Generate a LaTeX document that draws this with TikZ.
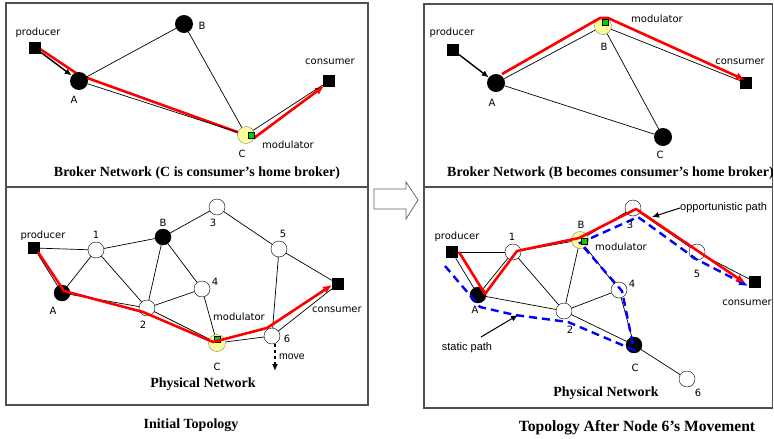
\documentclass[tikz,border=0pt]{standalone}
\usepackage{fontspec}
\setmainfont{Liberation Serif}
\newfontfamily\labelfont{DejaVu Sans}
\newfontfamily\notefont{Liberation Sans}
\usetikzlibrary{arrows.meta,backgrounds}
\definecolor{homeyellow}{RGB}{255,255,153}
\definecolor{modgreen}{RGB}{0,210,0}
\definecolor{framegray}{RGB}{80,80,80}
\tikzstyle{broker} = [circle, fill=black, minimum size=18pt, inner sep=0pt]
\tikzstyle{pbroker} = [circle, draw, fill=black, minimum size=16pt, inner sep=0pt]
\tikzstyle{router} = [circle, draw, fill=white, minimum size=16pt, inner sep=0pt]
\tikzstyle{home} = [circle, draw=black!50, fill=homeyellow, minimum size=17pt, inner sep=0pt]
\tikzstyle{client} = [rectangle, fill=black, minimum size=12pt, inner sep=0pt]
\tikzstyle{modbox} = [rectangle, draw, fill=modgreen, minimum size=6.5pt, inner sep=0pt, line width=0.5pt]
\tikzstyle{lbl} = [font=\labelfont\fontsize{10}{12}\selectfont, inner sep=0pt]
\tikzstyle{title} = [font=\bfseries\fontsize{14}{16}\selectfont, inner sep=0pt]
\tikzstyle{note} = [font=\notefont\fontsize{11}{13}\selectfont, inner sep=0pt]
\tikzstyle{link} = [line width=0.7pt]
\tikzstyle{route} = [red, line width=2.6pt, line join=round, -{Latex[length=9pt,width=8pt]}]
\tikzstyle{static} = [blue, line width=2.4pt, dash pattern=on 8pt off 5pt, -{Latex[length=9pt,width=8pt]}]
\tikzstyle{feed} = [line width=1.4pt, -{Latex[length=7pt,width=6pt]}]
\tikzstyle{frame} = [draw=framegray, line width=1.2pt]
\begin{document}
\begin{tikzpicture}[x=1pt, y=-1pt]
\useasboundingbox (0,0) rectangle (774,439);
% Frames
	\draw [frame] (6,3) rectangle (368,405);
	\draw [frame] (6,187) -- (368,187);
	\draw [frame] (424,4) rectangle (772.5,408);
	\draw [frame] (424,187) -- (772.5,187);
	\draw [draw=black!60, line width=0.8pt] (374,189) -- (406,189) -- (406,182) -- (418,200)
		-- (406,219) -- (406,209) -- (374,209) -- cycle;
% Nodes: initial broker network
	\node [client] (proda) at (35,48) {};
	\node [broker] (Aa) at (79,81) {};
	\node [broker] (Ba) at (184,24) {};
	\node [home] (Ca) at (246,135) {};
	\node [modbox] (moda) at (251,135) {};
	\node [client] (consa) at (329,81) {};
% Connections
	\draw [link] (Aa) -- (Ba);
	\draw [link] (Aa) -- (Ca);
	\draw [link] (Ba) -- (Ca);
	\draw [link] (Ca) -- (consa);
	\draw [feed] (proda) -- (Aa);
	\begin{scope}[on background layer]
	\draw [route] ([xshift=5,yshift=-1]proda.center) -- ([yshift=6]Aa.center)
		-- ([xshift=8,yshift=-3]Ca.center) -- ([xshift=-5,yshift=-5]consa.center);
	\end{scope}
% Notations
	\node [lbl] (lproda) at (38,33) {producer};
	\node [lbl] (lAa) at (74,100) {A};
	\node [lbl] (lBa) at (202,26) {B};
	\node [lbl] (lCa) at (242,154) {C};
	\node [lbl] (lmoda) at (288,145) {modulator};
	\node [lbl] (lconsa) at (330,62) {consumer};
	\node [title] (capa) at (197,173) {Broker Network (C is consumer’s home broker)};
% Nodes: initial physical network
	\node [client] (prodb) at (34,248) {};
	\node [router] (n1b) at (96,250) {};
	\node [pbroker] (Ab) at (62,293) {};
	\node [pbroker] (Bb) at (163,237) {};
	\node [router] (n3b) at (217,207) {};
	\node [router] (n5b) at (279,249) {};
	\node [router] (n4b) at (202,289) {};
	\node [router] (n2b) at (147,308) {};
	\node [home] (Cb) at (217,343) {};
	\node [modbox] (modb) at (217,339) {};
	\node [router] (n6b) at (272,336) {};
	\node [client] (consb) at (338,284) {};
	\coordinate (moveb) at (275,371);
% Connections
	\draw [link] (prodb) -- (n1b);
	\draw [link] (prodb) -- (Ab);
	\draw [link] (Ab) -- (n1b);
	\draw [link] (n1b) -- (Bb);
	\draw [link] (n1b) -- (n2b);
	\draw [link] (Ab) -- (n2b);
	\draw [link] (Bb) -- (n2b);
	\draw [link] (Bb) -- (n3b);
	\draw [link] (Bb) -- (n4b);
	\draw [link] (n4b) -- (n2b);
	\draw [link] (n4b) -- (Cb);
	\draw [link] (n2b) -- (Cb);
	\draw [link] (n3b) -- (n5b);
	\draw [link] (n5b) -- (consb);
	\draw [link] (n5b) -- (n6b);
	\draw [link] (Cb) -- (n6b);
	\draw [link] (n6b) -- (consb);
	\draw [route] ([xshift=4,yshift=-4]prodb.center) -- ([xshift=2,yshift=2]Ab.center)
		-- ([xshift=-4,yshift=-4]n2b.center) -- ([xshift=-4,yshift=1]Cb.center)
		-- ([xshift=-5,yshift=8]n6b.center) -- ([xshift=-6,yshift=-1]consb.center);
	\draw [feed, dashed, line width=1.3pt] ([xshift=3]n6b.south) -- (moveb);
% Notations
	\node [lbl] (lprodb) at (43,236) {producer};
	\node [lbl] (l1b) at (96,235) {1};
	\node [lbl] (lAb) at (53,311) {A};
	\node [lbl] (lBb) at (163,223) {B};
	\node [lbl] (l3b) at (213,223) {3};
	\node [lbl] (l5b) at (283,234) {5};
	\node [lbl] (l4b) at (215,282) {4};
	\node [lbl] (l2b) at (143,325) {2};
	\node [lbl] (lCb) at (217,367) {C};
	\node [lbl] (lmodb) at (239,317) {modulator};
	\node [lbl] (l6b) at (287,339) {6};
	\node [lbl] (lconsb) at (337,310) {consumer};
	\node [note, font=\notefont\fontsize{10.5}{12}\selectfont] (lmoveb) at (292,357) {move};
	\node [title] (capb) at (203,384) {Physical Network};
% Nodes: broker network after the move
	\node [client] (prodc) at (453,50) {};
	\node [broker] (Ac) at (496,83) {};
	\node [home] (Bc) at (603,26) {};
	\node [broker] (Cc) at (663,137) {};
	\node [client] (consc) at (746,83) {};
% Connections
	\draw [link] (Ac) -- (Bc);
	\draw [link] (Ac) -- (Cc);
	\draw [link] (Bc) -- (Cc);
	\draw [link] (Bc) -- (consc);
	\draw [feed] (prodc) -- (Ac);
	\draw [route] ([xshift=6,yshift=9]Ac.center) -- ([xshift=-3,yshift=8]Bc.center)
		-- ([xshift=5,yshift=8]Bc.center) -- ([xshift=-1,yshift=3]consc.center);
	\node [modbox] (modc) at (605,22) {};
% Notations
	\node [lbl] (lprodc) at (452,33) {producer};
	\node [lbl] (lAc) at (492,103) {A};
	\node [lbl] (lBc) at (604,47) {B};
	\node [lbl] (lmodc) at (657,19) {modulator};
	\node [lbl] (lCc) at (660,155) {C};
	\node [lbl] (lconsc) at (740,62) {consumer};
	\node [title, anchor=west] (capc) at (447,173) {Broker Network (B becomes consumer’s home broker)};
% Nodes: physical network after the move
	\node [client] (prodd) at (452,252) {};
	\node [router] (n1d) at (513,252) {};
	\node [pbroker] (Ad) at (478,295) {};
	\node [home] (Bd) at (580,240) {};
	\node [router] (n3d) at (633,208) {};
	\node [router] (n5d) at (697,252) {};
	\node [router] (n4d) at (619,290) {};
	\node [router] (n2d) at (564,311) {};
	\node [pbroker] (Cd) at (634,345) {};
	\node [router] (n6d) at (687,379) {};
	\node [client] (consd) at (755,282) {};
	\coordinate (opptr) at (652,217);
	\coordinate (sttail) at (481,337);
	\coordinate (stptr) at (518,315);
% Connections
	\draw [link] (prodd) -- (n1d);
	\draw [link] (prodd) -- (Ad);
	\draw [link] (Ad) -- (n1d);
	\draw [link] (n1d) -- (Bd);
	\draw [link] (n1d) -- (n2d);
	\draw [link] (Ad) -- (n2d);
	\draw [link] (Bd) -- (n2d);
	\draw [link] (Bd) -- (n3d);
	\draw [link] (Bd) -- (n4d);
	\draw [link] (n4d) -- (n2d);
	\draw [link] (n4d) -- (Cd);
	\draw [link] (n2d) -- (Cd);
	\draw [link] (n3d) -- (n5d);
	\draw [link] (n5d) -- (consd);
	\draw [link] (Cd) -- (n6d);
	\draw [static] ([xshift=-7,yshift=-14]prodd.center) -- ([xshift=2,yshift=-12]Ad.center)
		-- ([xshift=-49,yshift=-4]n2d.center) -- ([xshift=4,yshift=-11]n2d.center)
		-- ([yshift=-5]Cd.center) -- ([xshift=3,yshift=-1]n4d.center)
		-- ([yshift=-3]Bd.center) -- ([xshift=5,yshift=-9]n3d.center)
		-- ([xshift=-1,yshift=-7]n5d.center) -- ([xshift=-7,yshift=-4]consd.center);
	\draw [route] ([xshift=7]prodd.center) -- ([xshift=7,yshift=1]Ad.center)
		-- ([xshift=4,yshift=1]n1d.center) -- ([xshift=-1,yshift=2]Bd.center)
		-- ([xshift=3,yshift=-1]n3d.center) -- ([xshift=-10,yshift=-1]consd.center);
	\node [modbox] (modd) at (584,241) {};
% Notations
	\node [lbl] (lprodd) at (457,237) {producer};
	\node [lbl] (l1d) at (512,237) {1};
	\node [lbl] (lAd) at (475,310) {A};
	\node [lbl] (lBd) at (581,225) {B};
	\node [lbl] (lmodd) at (621,247) {modulator};
	\node [lbl] (l3d) at (630,225) {3};
	\node [lbl] (l5d) at (697,274) {5};
	\node [lbl] (l4d) at (632,284) {4};
	\node [lbl] (l2d) at (570,330) {2};
	\node [lbl] (lCd) at (635,368) {C};
	\node [lbl] (l6d) at (698,393) {6};
	\node [lbl] (lconsd) at (747,303) {consumer};
	\node [note, anchor=west] (loppd) at (680,208) {opportunistic path};
	\node [note] (lstatd) at (467,348) {static path};
	\draw [feed, line width=1pt] (loppd.west) -- (opptr);
	\draw [feed, line width=1pt] (sttail) -- (stptr);
	\node [title] (capd) at (606,393) {Physical Network};
% Captions
	\node [title] (initcap) at (191,425) {Initial Topology};
	\node [title, font=\bfseries\fontsize{15.6}{18}\selectfont] (aftercap) at (637,428) {Topology After Node 6’s Movement};
\end{tikzpicture}
\end{document}
